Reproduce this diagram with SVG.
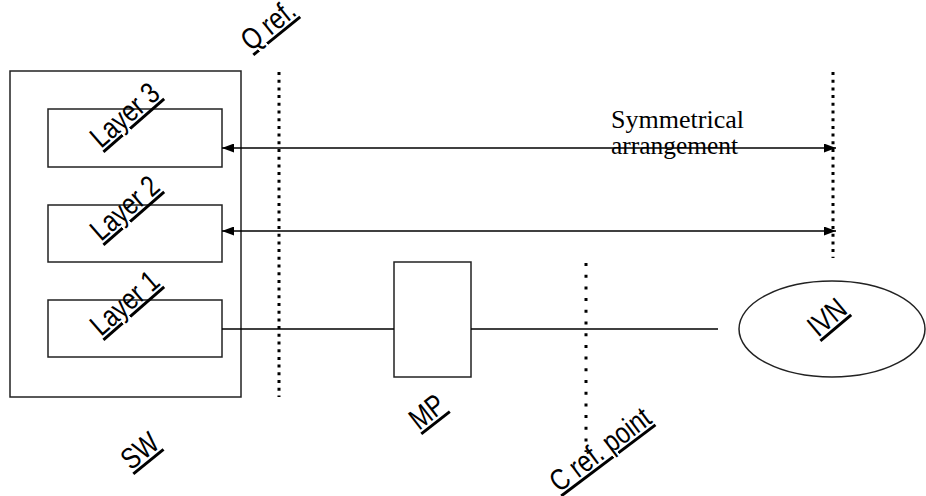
<svg xmlns="http://www.w3.org/2000/svg" width="926" height="496" viewBox="0 0 926 496">
<defs>
<style>
.box{fill:#fff;stroke:#222;stroke-width:1.5}
.ln{stroke:#000;stroke-width:1.6;fill:none}
.dot{stroke:#000;stroke-width:3;fill:none}
.lbl{font-family:"Liberation Sans",Arial,sans-serif;font-size:23px;fill:#000;text-decoration:underline;text-decoration-thickness:1px}
.ser{font-family:"Liberation Serif","Times New Roman",serif;font-size:26px;fill:#000}
</style>
<marker id="ah" markerWidth="12" markerHeight="9" refX="12" refY="4.5" orient="auto-start-reverse" markerUnits="userSpaceOnUse">
<path d="M0,0 L12,4.5 L0,9 Z" fill="#000"/>
</marker>
</defs>
<g id="sw">
<rect class="box" x="10" y="71" width="231" height="326"/>
<text class="lbl" transform="translate(131,471) rotate(-39) scale(1.05,1.3)">SW</text>
</g>
<g id="layer3">
<rect class="box" x="48" y="109" width="174" height="58"/>
<text class="lbl" transform="translate(101,149) rotate(-41) scale(1.05,1.3)">Layer 3</text>
</g>
<g id="layer2">
<rect class="box" x="48" y="205" width="174" height="57"/>
<text class="lbl" transform="translate(101,242) rotate(-41) scale(1.05,1.3)">Layer 2</text>
</g>
<g id="layer1">
<rect class="box" x="48" y="300" width="174" height="57"/>
<text class="lbl" transform="translate(101,337) rotate(-41) scale(1.05,1.3)">Layer 1</text>
</g>
<g id="mp">
<rect class="box" x="394" y="262" width="77" height="115"/>
<text class="lbl" transform="translate(419,431) rotate(-38) scale(1.05,1.3)">MP</text>
</g>
<g id="ivn">
<ellipse class="box" cx="832" cy="329" rx="93" ry="48"/>
<text class="lbl" transform="translate(818,338) rotate(-40) scale(1.05,1.3)">IVN</text>
</g>
<g id="qref">
<line class="dot" x1="279" y1="72" x2="279" y2="397" stroke-dasharray="3 4.7"/>
<text class="lbl" transform="translate(251,52) rotate(-39) scale(1.05,1.3)">Q ref.</text>
</g>
<g id="cref">
<line class="dot" x1="586" y1="263" x2="586" y2="452" stroke-dasharray="3 8.7"/>
<text class="lbl" transform="translate(559,493) rotate(-37) scale(1.05,1.3)">C ref. point</text>
</g>
<g id="sym">
<line class="dot" x1="833" y1="72" x2="833" y2="258" stroke-dasharray="3 4.7"/>
<text class="ser" x="611" y="128" textLength="133" lengthAdjust="spacingAndGlyphs">Symmetrical</text>
<text class="ser" x="611" y="154" textLength="127" lengthAdjust="spacingAndGlyphs">arrangement</text>
</g>
<g id="connectors">
<line class="ln" x1="222" y1="148" x2="836" y2="148" marker-start="url(#ah)" marker-end="url(#ah)"/>
<line class="ln" x1="222" y1="231" x2="836" y2="231" marker-start="url(#ah)" marker-end="url(#ah)"/>
<line class="ln" x1="222" y1="329" x2="394" y2="329"/>
<line class="ln" x1="471" y1="329" x2="718" y2="329"/>
</g>
</svg>
